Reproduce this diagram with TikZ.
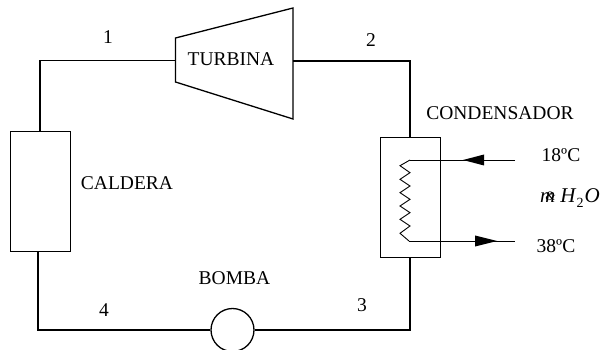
\documentclass[tikz,border=0pt]{standalone}
\usepackage{fontspec}
\setmainfont{Liberation Serif}
\usetikzlibrary{arrows.meta}
\tikzset{
  ln/.style={line width=1.3pt,black},
  thin ln/.style={line width=0.9pt,black},
  lbl/.style={font=\fontsize{19.5pt}{22pt}\selectfont,inner sep=0pt,text=black},
}
\begin{document}
\begin{tikzpicture}[x=1pt,y=-1pt]
\useasboundingbox (0,0) rectangle (603,350);
\begin{scope}
\clip (0,0) rectangle (603,350);
% caldera
\node[draw,thin ln,minimum width=59.6pt,minimum height=119.6pt,inner sep=0pt] (cald) at (40.5,191.5) {};
% turbine
\coordinate (tl) at (175.5,38);
\coordinate (tr) at (293,8);
\coordinate (br) at (293,119);
\coordinate (bl) at (175.5,82);
\draw[ln,fill=white] (tl) -- (tr) -- (br) -- (bl) -- cycle;
\coordinate (tin) at (175.5,60.5);
\coordinate (tout) at (293,61);
% condenser
\node[draw,thin ln,minimum width=60pt,minimum height=120pt,inner sep=0pt] (cond) at (410,197) {};
% pump
\node[draw,ln,circle,minimum size=43pt,inner sep=0pt] (pump) at (232.5,330) {};
% corners
\coordinate (c1) at (40,60.5);
\coordinate (c2) at (410,61);
\coordinate (c3) at (410,330);
\coordinate (c4) at (38,330);
\draw[ln] (cald.north -| c1) -- (c1) -- (tin);
\draw[ln] (tout) -- (c2) -- (cond.north -| c2);
\draw[ln] (cond.south -| c3) -- (c3) -- (pump.east);
\draw[ln] (pump.west) -- (c4) -- (cald.south -| c4);
\end{scope}
% coil
\coordinate (ci) at (410,160);
\coordinate (co) at (409,241);
\coordinate (ei) at (515,160);
\coordinate (eo) at (515,241);
\draw[thin ln] (ci) -- (400,165.7) -- (410,172.7) -- (400,179.3) -- (410,186) -- (400,192.7) -- (410,199.3) -- (400,206) -- (410,212.7) -- (400,219.3) -- (410,226) -- (400,233.3) -- (co);
\draw[thin ln] (ei) -- (ci);
\draw[thin ln] (co) -- (eo);
\path[fill=black] (463,160) -- (484,154.5) -- (484,165.5) -- cycle;
\path[fill=black] (497,241) -- (475,235.5) -- (475,246.5) -- cycle;
% labels
\node[lbl] (l1) at (108,37) {1};
\node[lbl] (l2) at (371,40) {2};
\node[lbl] (l3) at (362,305) {3};
\node[lbl] (l4) at (104,310) {4};
\node[lbl] (tt) at (231,59) {TURBINA};
\node[lbl] (ct) at (127,183) {CALDERA};
\node[lbl] (bt) at (234.5,278) {BOMBA};
\node[lbl] (cn) at (500,113) {CONDENSADOR};
\node[lbl] (t1) at (561,155) {18ºC};
\node[lbl] (t2) at (556,246) {38ºC};
\node[lbl,font=\fontsize{21pt}{22pt}\selectfont\itshape,anchor=west] (m) at (540,198) {m\kern-10pt\raisebox{2pt}{\fontsize{13pt}{13pt}\selectfont\&}\kern5pt H\kern1pt\raisebox{-5pt}{\fontsize{14pt}{14pt}\selectfont\upshape 2}\kern1pt O};
\end{tikzpicture}
\end{document}
